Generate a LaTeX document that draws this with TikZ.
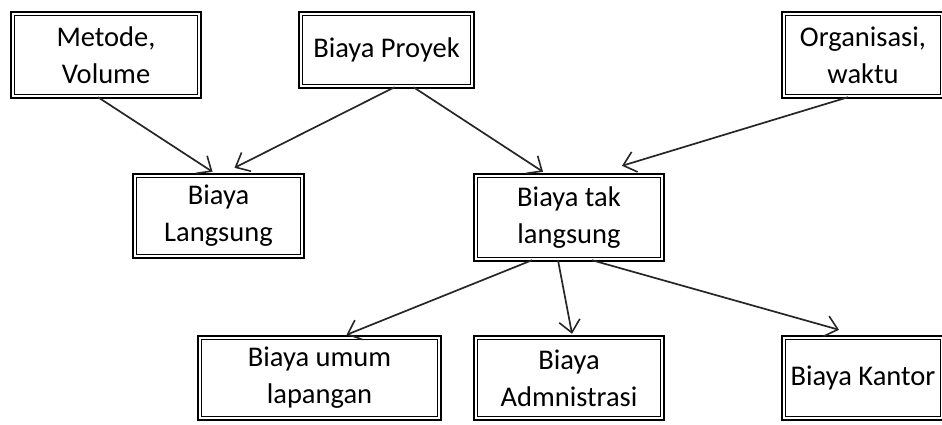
\documentclass[tikz,border=0pt]{standalone}
\usepackage{fontspec}
\setmainfont{Carlito}
\usetikzlibrary{arrows.meta}
\begin{document}
\begin{tikzpicture}[x=1pt,y=-1pt,
  box/.style={draw=black, double=white, double distance=2pt, line width=1.6pt,
    inner sep=0pt, align=center, font=\fontsize{28.5}{37}\selectfont, text=black},
  arr/.style={draw=black!85, line width=1.7pt, -{Straight Barb[length=12pt,width=21pt,line width=1.6pt]}}]
\useasboundingbox (0,0) rectangle (942,424);
\clip (0,0) rectangle (942,424);
\node[box, minimum width=186.8pt, minimum height=82.8pt] (met) at (106,55) {Metode,\\Volume};
\node[box, minimum width=171.8pt, minimum height=72.8pt] (proj) at (386.5,50) {Biaya Proyek};
\node[box, minimum width=158.8pt, minimum height=82.8pt] (org) at (863,55) {Organisasi,\\waktu};
\node[box, minimum width=167.8pt, minimum height=80.8pt] (lang) at (218.5,216) {Biaya\\Langsung};
\node[box, minimum width=186.8pt, minimum height=83.8pt] (tak) at (569,217.5) {Biaya tak\\langsung};
\node[box, minimum width=239.8pt, minimum height=80.8pt] (umum) at (319.5,378) {Biaya umum\\lapangan};
\node[box, minimum width=186.8pt, minimum height=80.8pt] (adm) at (569,378) {Biaya\\Admnistrasi};
\node[box, minimum width=158.8pt, minimum height=80.8pt] (kan) at (863,378) {Biaya Kantor};
\draw[arr] ([xshift=-8pt]met.south) -- ([xshift=-6pt,yshift=3pt]lang.north);
\draw[arr] ([xshift=8pt]proj.south) -- ([xshift=16pt,yshift=7pt]lang.north);
\draw[arr] ([xshift=27pt]proj.south) -- ([xshift=-26pt,yshift=3pt]tak.north);
\draw[arr] ([xshift=-15pt]org.south) -- ([xshift=53pt,yshift=9pt]tak.north);
\draw[arr] ([xshift=-37pt]tak.south) -- ([xshift=27pt,yshift=2pt]umum.north);
\draw[arr] ([xshift=-11pt]tak.south) -- ([xshift=3pt,yshift=3pt]adm.north);
\draw[arr] ([xshift=23pt]tak.south) -- ([xshift=-24pt,yshift=7pt]kan.north);
\end{tikzpicture}
\end{document}
